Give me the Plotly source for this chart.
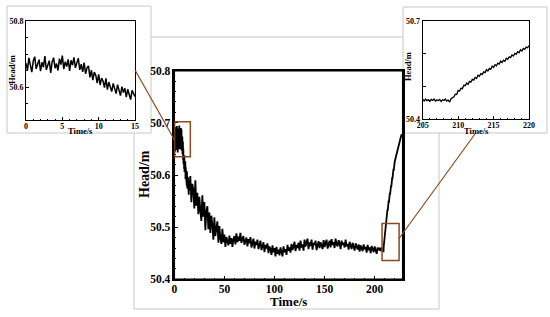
import plotly.graph_objects as go

# ---------------- data ----------------
# fine samples 0-15 s (step 0.2 s) - also shown in left inset
left_t = [round(i * 0.2, 1) for i in range(76)]
left_head = [
    50.672, 50.651, 50.688, 50.664, 50.645, 50.679, 50.692, 50.655, 50.670, 50.683,
    50.648, 50.675, 50.660, 50.694, 50.652, 50.667, 50.680, 50.643, 50.676, 50.689,
    50.657, 50.671, 50.650, 50.686, 50.668, 50.695, 50.654, 50.677, 50.662, 50.684,
    50.649, 50.681, 50.666, 50.690, 50.658, 50.673, 50.687, 50.652, 50.669, 50.646,
    50.674, 50.640, 50.658, 50.664, 50.629, 50.651, 50.621, 50.645, 50.636, 50.612,
    50.638, 50.606, 50.627, 50.618, 50.598, 50.626, 50.592, 50.615, 50.603, 50.586,
    50.611, 50.597, 50.580, 50.607, 50.589, 50.574, 50.601, 50.583, 50.596, 50.569,
    50.593, 50.575, 50.562, 50.590, 50.579, 50.571,
]

# coarse samples 16-204 s (step 1 s)
mid_t = list(range(16, 205))
mid_head = [
    50.598, 50.548, 50.583, 50.571, 50.536, 50.590, 50.541, 50.566, 50.525, 50.558,
    50.532, 50.512, 50.561, 50.520, 50.548, 50.494, 50.531, 50.540, 50.496, 50.528,
    50.489, 50.522, 50.505, 50.476, 50.519, 50.483, 50.498, 50.511, 50.470, 50.502,
    50.478, 50.468, 50.497, 50.471, 50.486, 50.462, 50.481, 50.475, 50.465, 50.484,
    50.468, 50.479, 50.462, 50.476, 50.483, 50.467, 50.488, 50.471, 50.482, 50.474,
    50.489, 50.470, 50.478, 50.483, 50.466, 50.476, 50.480, 50.463, 50.477, 50.469,
    50.481, 50.461, 50.473, 50.478, 50.459, 50.472, 50.466, 50.476, 50.458, 50.470,
    50.474, 50.456, 50.468, 50.471, 50.452, 50.466, 50.459, 50.469, 50.450, 50.463,
    50.458, 50.447, 50.465, 50.452, 50.460, 50.444, 50.462, 50.449, 50.457, 50.446,
    50.461, 50.450, 50.444, 50.463, 50.452, 50.458, 50.447, 50.466, 50.455, 50.461,
    50.451, 50.468, 50.456, 50.463, 50.472, 50.454, 50.466, 50.460, 50.470, 50.455,
    50.474, 50.461, 50.467, 50.455, 50.476, 50.463, 50.469, 50.478, 50.458, 50.471,
    50.464, 50.476, 50.457, 50.470, 50.466, 50.474, 50.456, 50.468, 50.473, 50.460,
    50.471, 50.465, 50.458, 50.475, 50.462, 50.470, 50.476, 50.459, 50.468, 50.474,
    50.461, 50.477, 50.466, 50.471, 50.460, 50.478, 50.467, 50.463, 50.475, 50.469,
    50.458, 50.474, 50.466, 50.470, 50.461, 50.476, 50.463, 50.468, 50.457, 50.472,
    50.465, 50.458, 50.470, 50.462, 50.455, 50.469, 50.464, 50.457, 50.467, 50.453,
    50.465, 50.459, 50.454, 50.467, 50.458, 50.462, 50.451, 50.466, 50.456, 50.461,
    50.450, 50.464, 50.457, 50.452, 50.463, 50.455, 50.449, 50.461, 50.456,
]

# fine samples 205-220 s (step 0.2 s) - also shown in right inset
right_t = [round(205 + i * 0.2, 1) for i in range(76)]
right_head = [
    50.460, 50.455, 50.461, 50.456, 50.459, 50.454, 50.460, 50.457, 50.461, 50.455,
    50.459, 50.456, 50.460, 50.454, 50.459, 50.457, 50.461, 50.455, 50.458, 50.452,
    50.462,
    50.466, 50.468, 50.476, 50.475, 50.487, 50.486, 50.494, 50.493, 50.503, 50.502,
    50.510, 50.506, 50.515, 50.513, 50.521, 50.519, 50.527, 50.524, 50.534, 50.531,
    50.539, 50.536, 50.544, 50.542, 50.551, 50.547, 50.555, 50.552, 50.562, 50.558,
    50.566, 50.563, 50.571, 50.568, 50.577, 50.573, 50.580, 50.577, 50.586, 50.583,
    50.590, 50.588, 50.596, 50.593, 50.601, 50.598, 50.606, 50.603, 50.612, 50.608,
    50.616, 50.613, 50.620, 50.618, 50.625,
]

# tail 221-227 s
end_t = [221, 222, 223, 224, 225, 226, 227]
end_head = [50.633, 50.642, 50.650, 50.658, 50.665, 50.672, 50.678]

main_t = left_t + mid_t + right_t + end_t
main_head = left_head + mid_head + right_head + end_head

# zoom boxes (data coordinates)
box1_x = [0.3, 16]
box1_y = [50.635, 50.702]
box2_x = [207.4, 224.4]
box2_y = [50.436, 50.507]

# ---------------- figure ----------------
W, H = 550, 317
def px(x):
    return x / W
def py(y):
    return (H - y) / H

FONT = "Liberation Serif"
BROWN = "#8B4A1C"
GRAY = "#c8c8c8"

fig = go.Figure()
fig.add_trace(go.Scatter(x=main_t, y=main_head, mode="lines",
                         line=dict(color="black", width=1.8), xaxis="x", yaxis="y",
                         showlegend=False, hoverinfo="skip"))
fig.add_trace(go.Scatter(x=left_t, y=left_head, mode="lines",
                         line=dict(color="black", width=1.5), xaxis="x2", yaxis="y2",
                         showlegend=False, hoverinfo="skip"))
fig.add_trace(go.Scatter(x=right_t, y=right_head, mode="lines",
                         line=dict(color="black", width=1.3), xaxis="x3", yaxis="y3",
                         showlegend=False, hoverinfo="skip"))

main_tick = dict(family=FONT, size=11.5, color="black", weight="bold")
inset_tick = dict(family=FONT, size=8, color="black", weight="bold")

common = dict(showline=True, linecolor="black", mirror=True, showgrid=False,
              zeroline=False, ticks="inside", tickcolor="black", automargin=False)

fig.update_layout(
    width=W, height=H,
    margin=dict(l=0, r=0, t=0, b=0, pad=0),
    paper_bgcolor="white", plot_bgcolor="rgba(0,0,0,0)",
    xaxis=dict(domain=[px(174.3), px(402.7)], anchor="y", range=[0, 228],
               tickvals=[0, 50, 100, 150, 200], ticklen=4, linewidth=1.5,
               minor=dict(dtick=10, ticklen=2, ticks="inside", tickcolor="black"),
               tickfont=main_tick, ticklabelstandoff=-2, **common),
    yaxis=dict(domain=[py(279.3), py(70.7)], anchor="x", range=[50.4, 50.8],
               tickvals=[50.4, 50.5, 50.6, 50.7, 50.8], ticktext=["50.4", "50.5", "50.6", "50.7", "50.8"],
               ticklen=4, linewidth=1.5,
               minor=dict(dtick=0.02, tick0=50.4, ticklen=2, ticks="inside", tickcolor="black"),
               tickfont=main_tick, **common),
    xaxis2=dict(domain=[px(26), px(135)], anchor="y2", range=[0, 15],
                tickvals=[0, 5, 10, 15], ticklen=3, linewidth=1,
                minor=dict(dtick=1, ticklen=1.5, ticks="inside", tickcolor="black"),
                tickfont=inset_tick, ticklabelstandoff=-2, **common),
    yaxis2=dict(domain=[py(120), py(21)], anchor="x2", range=[50.5, 50.8],
                tickvals=[50.6, 50.8], ticktext=["50.6", "50.8"], ticklen=3, linewidth=1,
                minor=dict(dtick=0.05, tick0=50.5, ticklen=1.5, ticks="inside", tickcolor="black"),
                tickfont=inset_tick, **common),
    xaxis3=dict(domain=[px(422.7), px(529)], anchor="y3", range=[205, 220],
                tickvals=[205, 210, 215, 220], ticklen=3, linewidth=1,
                minor=dict(dtick=1, ticklen=1.5, ticks="inside", tickcolor="black"),
                tickfont=inset_tick, ticklabelstandoff=-2, **common),
    yaxis3=dict(domain=[py(119), py(21)], anchor="x3", range=[50.4, 50.7],
                tickvals=[50.4, 50.5, 50.6, 50.7], ticktext=["50.4", "", "", "50.7"],
                ticklen=3, linewidth=1,
                tickfont=inset_tick, **common),
)

shapes = []
# panel frames (below traces)
shapes.append(dict(type="rect", xref="paper", yref="paper", layer="below",
                   x0=px(134), x1=px(439), y0=py(309), y1=py(37),
                   line=dict(color=GRAY, width=1), fillcolor="white"))
shapes.append(dict(type="rect", xref="paper", yref="paper", layer="below",
                   x0=px(7), x1=px(151), y0=py(133), y1=py(6),
                   line=dict(color=GRAY, width=1), fillcolor="white"))
shapes.append(dict(type="rect", xref="paper", yref="paper", layer="below",
                   x0=px(403), x1=px(547), y0=py(133), y1=py(7),
                   line=dict(color=GRAY, width=1), fillcolor="white"))
# main plot border (explicit, so the right edge is always drawn)
shapes.append(dict(type="rect", xref="x domain", yref="y domain", layer="above",
                   x0=0, x1=1, y0=0, y1=1, line=dict(color="black", width=1.5)))
# zoom boxes
shapes.append(dict(type="rect", xref="x", yref="y", layer="above",
                   x0=box1_x[0], x1=box1_x[1], y0=box1_y[0], y1=box1_y[1],
                   line=dict(color=BROWN, width=1.5)))
shapes.append(dict(type="rect", xref="x", yref="y", layer="above",
                   x0=box2_x[0], x1=box2_x[1], y0=box2_y[0], y1=box2_y[1],
                   line=dict(color=BROWN, width=1.5)))
# connector lines
shapes.append(dict(type="line", xref="paper", yref="paper", layer="above",
                   x0=px(135), y0=py(70), x1=px(174.5), y1=py(140),
                   line=dict(color=BROWN, width=1.2)))
shapes.append(dict(type="line", xref="paper", yref="paper", layer="above",
                   x0=px(398.7), y0=py(239), x1=px(475), y1=py(134),
                   line=dict(color=BROWN, width=1.2)))
fig.update_layout(shapes=shapes)

ann = []
def label(text, x, y, size, angle=0):
    ann.append(dict(text=text, x=px(x), y=py(y), xref="paper", yref="paper",
                    showarrow=False, textangle=angle, xanchor="center", yanchor="middle",
                    font=dict(family=FONT, size=size, color="black", weight="bold")))

label("Time/s", 288.5, 301.5, 13)
label("Head/m", 145, 174, 14, -90)
label("Time/s", 80.5, 130.5, 8.5)
label("Head/m", 12, 70, 8.5, -90)
label("Time/s", 476.5, 130.5, 8.5)
label("Head/m", 408, 67, 8.5, -90)
fig.update_layout(annotations=ann)

fig.write_html("out.html",
               config={"displayModeBar": False},
               post_script="document.body.style.margin='0';document.body.style.overflow='hidden';")
